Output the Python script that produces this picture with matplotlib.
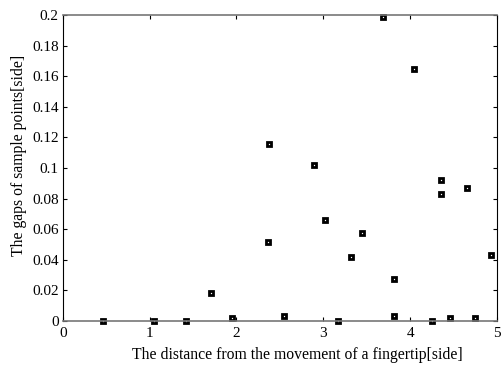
import matplotlib
matplotlib.use('Agg')
import matplotlib.pyplot as plt

# distance from the movement of a fingertip vs gap of sample points
dist = [0.465, 1.047, 1.415, 1.707, 1.95, 2.365, 2.376, 2.55, 2.89, 3.015,
        3.165, 3.32, 3.45, 3.688, 3.815, 3.815, 4.046, 4.253, 4.353, 4.357,
        4.46, 4.656, 4.743, 4.933]
gaps = [0.0, 0.0, 0.0, 0.0183, 0.002, 0.0516, 0.116, 0.0035, 0.102, 0.066,
        0.0, 0.042, 0.0577, 0.199, 0.0277, 0.0035, 0.1647, 0.0, 0.092, 0.0828,
        0.002, 0.087, 0.002, 0.0433]

x_ticks = [0, 1, 2, 3, 4, 5]
y_ticks = [0, 0.02, 0.04, 0.06, 0.08, 0.1, 0.12, 0.14, 0.16, 0.18, 0.2]

plt.rcParams['font.family'] = ['Liberation Serif', 'DejaVu Serif']

fig = plt.figure(figsize=(5.01, 3.66), dpi=100)
ax = fig.add_axes([0.1253, 0.123, 0.8667, 0.836])

ax.plot(dist, gaps, linestyle='none', marker='s', markersize=3.2,
        markerfacecolor='white', markeredgecolor='black', markeredgewidth=2.0,
        clip_on=False)

ax.set_xlim(0, 5)
ax.set_ylim(0, 0.2)
ax.set_xticks(x_ticks)
ax.set_xticklabels(['%g' % t for t in x_ticks])
ax.set_yticks(y_ticks)
ax.set_yticklabels(['%g' % t for t in y_ticks])
ax.tick_params(direction='in', length=3, top=True, right=True, labelsize=11)
ax.tick_params(axis='x', pad=4)
ax.tick_params(axis='y', pad=3)

for side in ['top', 'bottom']:
    ax.spines[side].set_color('#777777')
    ax.spines[side].set_linewidth(1.2)
for side in ['left', 'right']:
    ax.spines[side].set_color('black')
    ax.spines[side].set_linewidth(0.8)

ax.set_xlabel('The distance from the movement of a fingertip[side]', fontsize=11.3)
ax.xaxis.set_label_coords(0.54, -0.085)
ax.set_ylabel('The gaps of sample points[side]', fontsize=11.3)
ax.yaxis.set_label_coords(-0.082, 0.54)

fig.savefig('out.png', dpi=100)
